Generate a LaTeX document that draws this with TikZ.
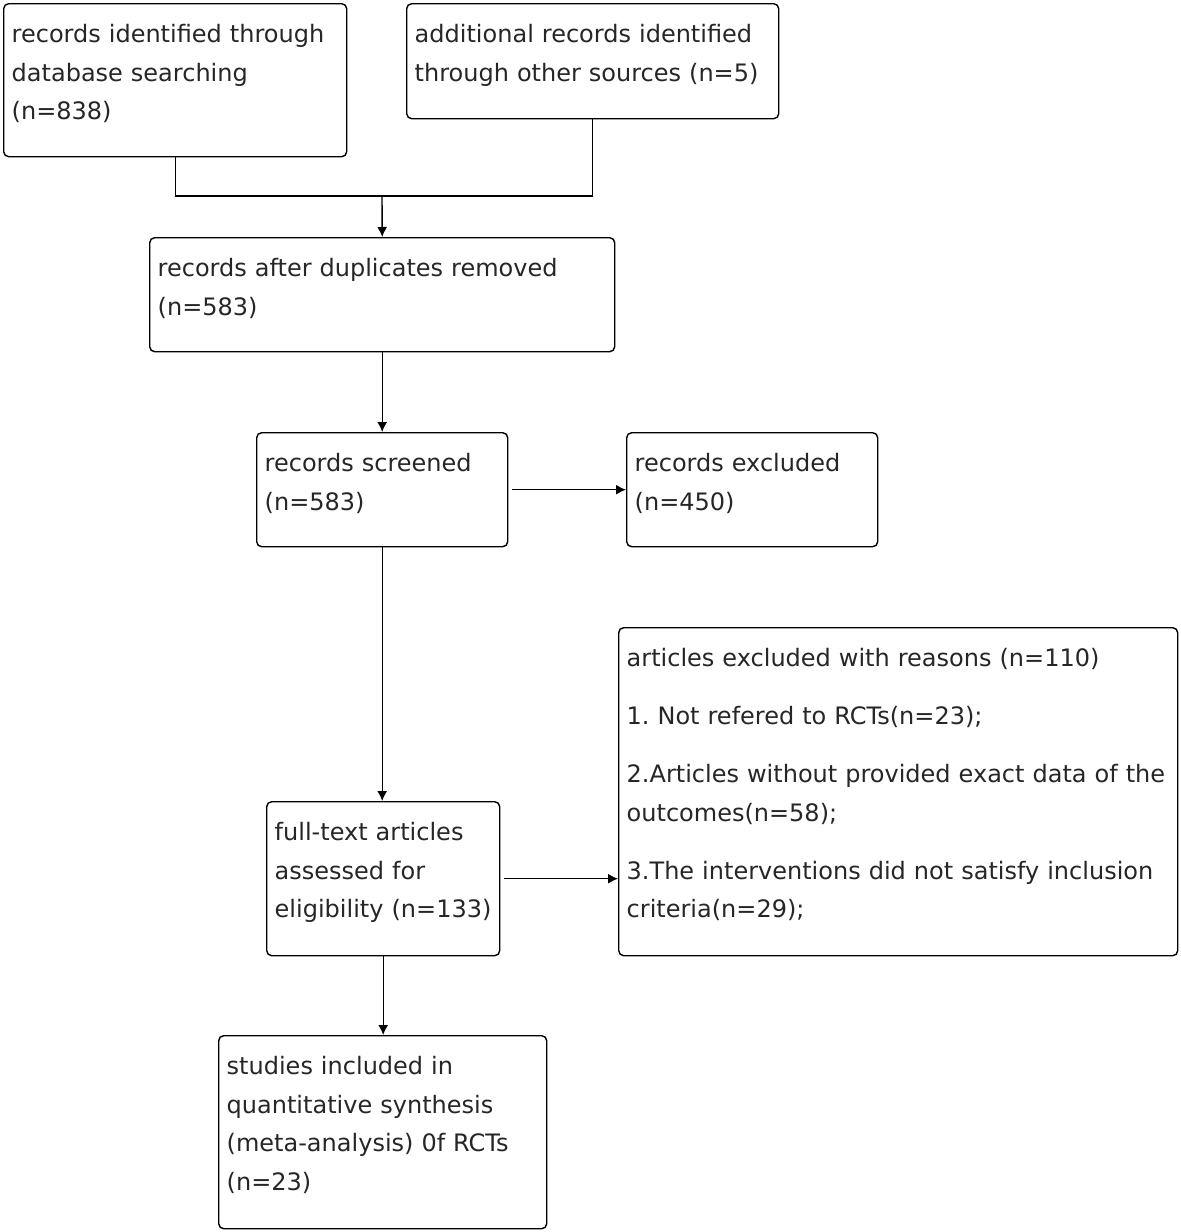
\documentclass[tikz,border=0pt]{standalone}
\usepackage{fontspec}
\setmainfont{DejaVu Sans}
\usetikzlibrary{arrows.meta,positioning}

\begin{document}
\begin{tikzpicture}[x=0.5pt,y=-0.5pt,->,>={Latex[length=5pt,width=5pt]},line width=0.7pt,
                    box node/.style={draw,-,rounded corners=2.5pt,anchor=north west,align=left,
                      inner xsep=4pt,inner ysep=0pt,text height=19.5pt,text=black!85,
                      font=\fontsize{12}{19.25}\selectfont}]

  \useasboundingbox (0,0) rectangle (1181,1232);

  \node[box node,text width=163.5pt,text depth=57pt] (db) at (3,3)
    {records identified through\\database searching\\(n=838)};
  \node[box node,text width=178pt,text depth=38pt] (other) at (406,3)
    {additional records identified\\through other sources (n=5)};
  \node[box node,text width=224.5pt,text depth=37.5pt] (dup) at (149,237)
    {records after duplicates removed\\(n=583)};
  \node[box node,text width=117.5pt,text depth=37.5pt] (scr) at (256,432)
    {records screened\\(n=583)};
  \node[box node,text width=117.5pt,text depth=37.5pt] (excl) at (626,432)
    {records excluded\\(n=450)};
  \node[box node,text width=108.5pt,text depth=57.5pt] (full) at (266,801)
    {full-text articles\\assessed for\\eligibility (n=133)};
  \node[box node,text width=271.5pt,text depth=144.5pt] (reasons) at (618,627)
    {articles excluded with reasons (n=110)\\[9.75pt]
     1.\ Not refered to RCTs(n=23);\\[9.75pt]
     2.Articles without provided exact data of the\\outcomes(n=58);\\[9.75pt]
     3.The interventions did not satisfy inclusion\\criteria(n=29);};
  \node[box node,text width=156pt,text depth=77pt] (incl) at (218,1035)
    {studies included in\\quantitative synthesis\\(meta-analysis) 0f RCTs\\(n=23)};

  \coordinate (merge) at (382,196);
  \draw[-] (db.south) |- (merge -| other.south) -- (other.south);
  \draw (merge) -- (dup.north);
  \draw (dup.south) -- (scr.north);
  \draw[shorten <=2pt] (scr.east) -- (excl.west);
  \draw (scr.south) -- (scr.south |- full.north);
  \draw[shorten <=2pt] (full.east) -- (full.east -| reasons.west);
  \draw (full.south) -- (full.south |- incl.north);
\end{tikzpicture}
\end{document}
